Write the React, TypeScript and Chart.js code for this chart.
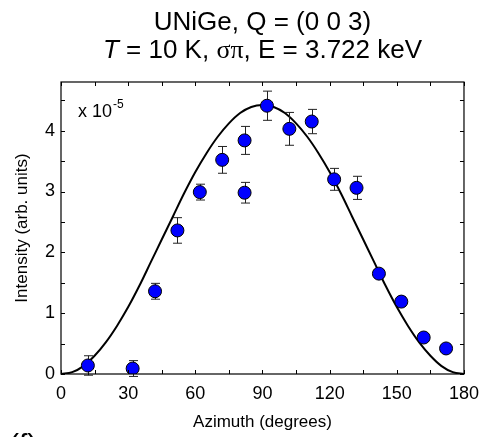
import React, { useEffect, useRef } from 'react';
import { Chart, registerables } from 'chart.js';
Chart.register(...registerables);

// Measured points (x 10^-5)
const azimuth = [12, 32, 42, 52, 62, 72, 82, 82, 92, 102, 112, 122, 132, 142, 152, 162, 172];
const intensity = [0.14, 0.09, 1.36, 2.36, 2.99, 3.52, 3.84, 2.98, 4.41, 4.03, 4.15, 3.2, 3.06, 1.65, 1.19, 0.6, 0.42];
const intensityErr = [0.16, 0.13, 0.13, 0.21, 0.13, 0.22, 0.23, 0.17, 0.24, 0.27, 0.2, 0.18, 0.19, 0.07, 0.08, 0.06, 0.07];

// Fitted curve
const fitAzimuth = [0, 5, 10, 15, 20, 25, 30, 35, 40, 45, 50, 55, 60, 65, 70, 75, 80, 85, 90, 95, 100, 105, 110, 115, 120, 125, 130, 135, 140, 145, 150, 155, 160, 165, 170, 175, 180];
const fitIntensity = [0, 0.03, 0.13, 0.3, 0.52, 0.79, 1.1, 1.45, 1.83, 2.21, 2.59, 2.97, 3.32, 3.63, 3.9, 4.12, 4.29, 4.39, 4.42, 4.39, 4.29, 4.12, 3.9, 3.63, 3.32, 2.97, 2.59, 2.21, 1.83, 1.45, 1.1, 0.79, 0.52, 0.3, 0.13, 0.03, 0];

const xTickLabels = [0, 30, 60, 90, 120, 150, 180];
const yTickLabels = [0, 1, 2, 3, 4];
const xMinorTicks = [15, 45, 75, 105, 135, 165];
const yMinorTicks = [0.5, 1.5, 2.5, 3.5, 4.5];

const titleLine1 = 'UNiGe, Q = (0 0 3)';
const titleLine2Italic = 'T';
const titleLine2a = ' = 10 K, ';
const titleLine2Greek = 'σπ';
const titleLine2b = ', E = 3.722 keV';
const xTitle = 'Azimuth (degrees)';
const yTitle = 'Intensity (arb. units)';
const scaleNote = 'x 10';
const scaleExp = '-5';
const panelLabel = '(f)';

const W = 488;
const H = 437;
const SANS = '"Liberation Sans", Arial, sans-serif';
const SERIF = '"Liberation Serif", "Times New Roman", serif';

const errorBars = {
  id: 'errorBars',
  beforeDatasetDraw(chart: any, args: any) {
    if (args.index !== 0) return;
    const { ctx, scales } = chart;
    const x = scales.x;
    const y = scales.y;
    ctx.save();
    ctx.strokeStyle = '#222';
    ctx.lineWidth = 1;
    azimuth.forEach((a, i) => {
      const px = Math.round(x.getPixelForValue(a)) + 0.5;
      const top = y.getPixelForValue(intensity[i] + intensityErr[i]);
      const bot = y.getPixelForValue(intensity[i] - intensityErr[i]);
      ctx.beginPath();
      ctx.moveTo(px, top);
      ctx.lineTo(px, bot);
      ctx.moveTo(px - 4.5, top);
      ctx.lineTo(px + 4.5, top);
      ctx.moveTo(px - 4.5, bot);
      ctx.lineTo(px + 4.5, bot);
      ctx.stroke();
    });
    ctx.restore();
  },
};

const frame = {
  id: 'frame',
  afterDraw(chart: any) {
    const { ctx, chartArea, scales } = chart;
    const x = scales.x;
    const y = scales.y;
    const { left, right, top, bottom } = chartArea;
    ctx.save();
    ctx.strokeStyle = '#000';
    ctx.lineWidth = 1.2;
    ctx.strokeRect(left, top, right - left, bottom - top);
    ctx.lineWidth = 1;
    const tl = 4;
    ctx.beginPath();
    [...xTickLabels, ...xMinorTicks].forEach((v) => {
      const px = Math.round(x.getPixelForValue(v)) + 0.5;
      ctx.moveTo(px, bottom);
      ctx.lineTo(px, bottom - tl);
      ctx.moveTo(px, top);
      ctx.lineTo(px, top + tl);
    });
    [...yTickLabels, ...yMinorTicks].forEach((v) => {
      const py = Math.round(y.getPixelForValue(v)) + 0.5;
      ctx.moveTo(left, py);
      ctx.lineTo(left + tl, py);
      ctx.moveTo(right, py);
      ctx.lineTo(right - tl, py);
    });
    ctx.stroke();

    // title
    const cx = (left + right) / 2;
    ctx.fillStyle = '#000';
    ctx.textBaseline = 'alphabetic';
    ctx.textAlign = 'center';
    ctx.font = `26px ${SANS}`;
    ctx.fillText(titleLine1, cx, 30);
    const parts = [
      { t: titleLine2Italic, f: `italic 26px ${SANS}` },
      { t: titleLine2a, f: `26px ${SANS}` },
      { t: titleLine2Greek, f: `26px ${SERIF}` },
      { t: titleLine2b, f: `26px ${SANS}` },
    ];
    let total = 0;
    parts.forEach((p) => {
      ctx.font = p.f;
      total += ctx.measureText(p.t).width;
    });
    let xx = cx - total / 2;
    ctx.textAlign = 'left';
    parts.forEach((p) => {
      ctx.font = p.f;
      ctx.fillText(p.t, xx, 58);
      xx += ctx.measureText(p.t).width;
    });

    // scale note
    ctx.font = `18px ${SANS}`;
    ctx.fillText(scaleNote, left + 17, top + 35);
    const w = ctx.measureText(scaleNote).width;
    ctx.font = `12px ${SANS}`;
    ctx.fillText(scaleExp, left + 17 + w + 1, top + 26);

    // cut-off panel label
    ctx.font = `30px ${SANS}`;
    ctx.textBaseline = 'top';
    ctx.fillText(panelLabel, 9, 432);
    ctx.restore();
  },
};

export default function App() {
  const ref = useRef<HTMLCanvasElement>(null);
  useEffect(() => {
    document.body.style.margin = '0';
    const canvas = ref.current;
    if (!canvas) return;
    Chart.defaults.font.family = SANS;
    Chart.defaults.color = '#000';
    const chart = new Chart(canvas, {
      type: 'scatter',
      data: {
        datasets: [
          {
            type: 'scatter',
            data: azimuth.map((a, i) => ({ x: a, y: intensity[i] })),
            pointRadius: 6.5,
            pointHoverRadius: 6.5,
            backgroundColor: '#0000ff',
            borderColor: '#000',
            borderWidth: 1,
            order: 1,
          },
          {
            type: 'line',
            data: fitAzimuth.map((a, i) => ({ x: a, y: fitIntensity[i] })),
            borderColor: '#000',
            borderWidth: 2,
            pointRadius: 0,
            fill: false,
            cubicInterpolationMode: 'monotone',
            order: 2,
          } as any,
        ],
      },
      options: {
        animation: false,
        responsive: false,
        events: [],
        layout: { padding: { left: 0, right: 21, top: 82, bottom: 0 } },
        plugins: { legend: { display: false }, tooltip: { enabled: false }, title: { display: false } },
        scales: {
          x: {
            type: 'linear',
            min: 0,
            max: 180,
            afterBuildTicks: (s: any) => {
              s.ticks = xTickLabels.map((v) => ({ value: v }));
            },
            afterFit: (s: any) => {
              s.height = 63;
            },
            grid: { display: false, drawTicks: false },
            border: { display: false },
            ticks: { font: { size: 18 }, padding: 9, maxRotation: 0, autoSkip: false },
            title: { display: true, text: xTitle, font: { size: 17 }, padding: { top: 0, bottom: 4 } },
          },
          y: {
            type: 'linear',
            min: 0,
            max: 4.8,
            afterBuildTicks: (s: any) => {
              s.ticks = yTickLabels.map((v) => ({ value: v }));
            },
            afterFit: (s: any) => {
              s.width = 61;
            },
            grid: { display: false, drawTicks: false },
            border: { display: false },
            ticks: { font: { size: 18 }, padding: 6, autoSkip: false },
            title: { display: true, text: yTitle, font: { size: 17 }, padding: { top: 12, bottom: 0 } },
          },
        },
      },
      plugins: [errorBars, frame],
    });
    return () => chart.destroy();
  }, []);
  return (
    <div style={{ position: 'relative', width: W, height: H, background: '#fff' }}>
      <canvas ref={ref} width={W} height={H} style={{ display: 'block', width: W, height: H }} />
    </div>
  );
}
